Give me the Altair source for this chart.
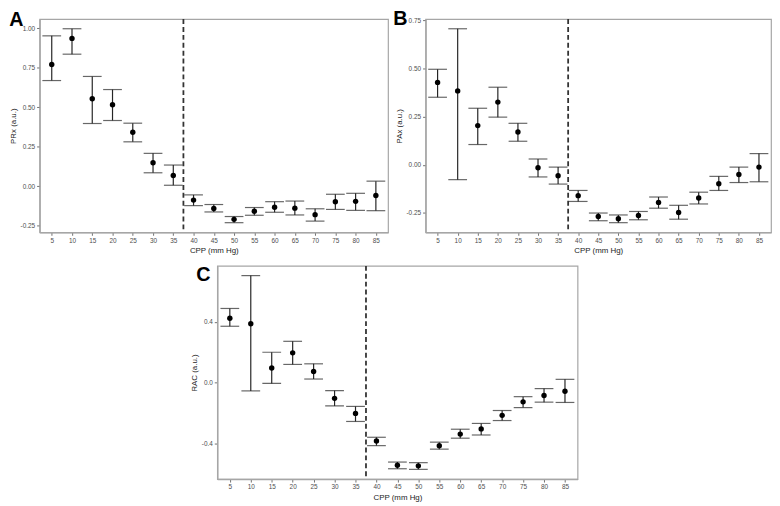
import altair as alt
import pandas as pd

cpp = [5, 10, 15, 20, 25, 30, 35, 40, 45, 50, 55, 60, 65, 70, 75, 80, 85]
cutoff = [37.5]
x_ticks = cpp

prx_mean = [0.770, 0.935, 0.553, 0.515, 0.341, 0.148, 0.067, -0.089, -0.142, -0.211, -0.160, -0.134, -0.140, -0.181, -0.099, -0.097, -0.060]
prx_hi = [0.951, 0.996, 0.694, 0.611, 0.398, 0.207, 0.133, -0.056, -0.117, -0.193, -0.136, -0.099, -0.095, -0.144, -0.052, -0.046, 0.031]
prx_lo = [0.668, 0.835, 0.396, 0.415, 0.280, 0.084, 0.005, -0.124, -0.164, -0.232, -0.185, -0.166, -0.183, -0.222, -0.148, -0.154, -0.156]

pax_mean = [0.427, 0.383, 0.203, 0.325, 0.170, -0.015, -0.057, -0.160, -0.268, -0.280, -0.263, -0.195, -0.247, -0.172, -0.098, -0.050, -0.012]
pax_hi = [0.495, 0.705, 0.293, 0.402, 0.215, 0.030, -0.012, -0.133, -0.250, -0.260, -0.242, -0.167, -0.210, -0.142, -0.060, -0.012, 0.058]
pax_lo = [0.350, -0.077, 0.105, 0.247, 0.122, -0.063, -0.100, -0.190, -0.290, -0.300, -0.285, -0.225, -0.282, -0.203, -0.133, -0.092, -0.088]

rac_mean = [0.423, 0.387, 0.095, 0.195, 0.072, -0.104, -0.203, -0.385, -0.544, -0.548, -0.415, -0.339, -0.305, -0.216, -0.127, -0.085, -0.057]
rac_hi = [0.487, 0.703, 0.199, 0.271, 0.123, -0.053, -0.157, -0.360, -0.523, -0.527, -0.392, -0.307, -0.269, -0.184, -0.093, -0.040, 0.021]
rac_lo = [0.370, -0.055, -0.006, 0.119, 0.023, -0.154, -0.256, -0.415, -0.567, -0.571, -0.438, -0.366, -0.345, -0.250, -0.165, -0.129, -0.131]

FONT = "Liberation Sans"
BAR = "#262626"


def panel(mean, lo, hi, ylabel, ydomain, yticks, fmt, letter, dx, toff, w, h):
    df = pd.DataFrame({"cpp": cpp, "mean": mean, "lo": lo, "hi": hi})
    cut = pd.DataFrame({"cpp": cutoff})
    xs = alt.Scale(domain=[2, 88], nice=False, zero=False)
    ys = alt.Scale(domain=ydomain, nice=False, zero=False)
    xax = alt.Axis(values=x_ticks, format="d", title="CPP (mm Hg)", grid=False,
                   labelOverlap=False, labelFlush=False, labelBound=False)
    yax = alt.Axis(values=yticks, format=fmt, title=ylabel, grid=False,
                   labelOverlap=False, labelFlush=False,
                   labelExpr="replace(datum.label, '\u2212', '-')")
    base = alt.Chart(df)

    def X():
        return alt.X("cpp:Q", scale=xs, axis=xax)

    def Y(field):
        return alt.Y(field, scale=ys, axis=yax)

    bars = base.mark_rule(color=BAR, strokeWidth=1.2).encode(
        x=X(), y=Y("lo:Q"), y2="hi:Q")
    cap_hi = base.mark_tick(color=BAR, thickness=1.2, size=19, orient="horizontal").encode(
        x=X(), y=Y("hi:Q"))
    cap_lo = base.mark_tick(color=BAR, thickness=1.2, size=19, orient="horizontal").encode(
        x=X(), y=Y("lo:Q"))
    pts = base.mark_circle(color="black", opacity=1, size=30).encode(x=X(), y=Y("mean:Q"))
    dash = alt.Chart(cut).mark_rule(color="#333333", strokeWidth=1.8, strokeDash=[5, 3]).encode(
        x=X())
    return alt.layer(bars, cap_hi, cap_lo, pts, dash).properties(
        width=w, height=h,
        title=alt.TitleParams(letter, anchor="start", frame="bounds", fontSize=20,
                              fontWeight="bold", font=FONT, color="black", dx=dx, offset=toff),
    )


a = panel(prx_mean, prx_lo, prx_hi, "PRx (a.u.)", [-0.293, 1.057],
          [-0.25, 0.0, 0.25, 0.5, 0.75, 1.0], ".2f", "A", 0, -12, 353, 216)
b = panel(pax_mean, pax_lo, pax_hi, "PAx (a.u.)", [-0.35, 0.755],
          [-0.25, 0.0, 0.25, 0.5, 0.75], ".2f", "B", -2, -12, 350, 216)
c = panel(rac_mean, rac_lo, rac_hi, "RAC (a.u.)", [-0.635, 0.767],
          [-0.4, 0.0, 0.4], ".1f", "C", 6, -20, 365, 216)

spacer = alt.Chart(pd.DataFrame({"v": [0]})).mark_point(opacity=0).encode(
    x=alt.X("v:Q", axis=None), y=alt.Y("v:Q", axis=None)
).properties(width=1, height=1, view=alt.ViewBackground(strokeOpacity=0))

top = alt.hconcat(a, b, spacing=3)
bottom = alt.hconcat(spacer, c, spacing=148)

chart = alt.vconcat(top, bottom, spacing=7).properties(
    padding={"top": -3, "left": 0, "right": 0, "bottom": 0}
).configure(
    font=FONT
).configure_view(
    stroke="#a6a6a6", strokeWidth=1.2
).configure_axis(
    labelFont=FONT, titleFont=FONT, labelFontSize=6.5, titleFontSize=8,
    labelColor="#4d4d4d", titleColor="#1a1a1a", titleFontWeight="normal",
    tickColor="#4d4d4d", tickSize=3, tickWidth=0.8,
    domainColor="#a6a6a6", domainWidth=1.5,
    labelPadding=2, titlePadding=3, labelOverlap=False,
)

chart.save("out.html", embed_options={"renderer": "svg", "actions": False})
